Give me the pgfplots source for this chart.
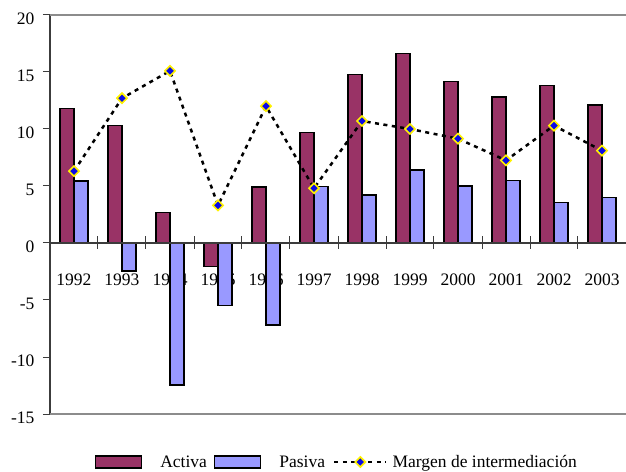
\documentclass[border=0pt]{standalone}
\usepackage{pgfplots}
\pgfplotsset{compat=1.18}
\usepackage{fontspec}
\setmainfont{Liberation Serif}

\definecolor{activa}{HTML}{993366}
\definecolor{pasiva}{HTML}{9999FF}
\definecolor{margen}{HTML}{0A0AE6}
\definecolor{axisdark}{HTML}{3C3C3C}
\definecolor{framegray}{HTML}{8C8C8C}

\newcommand\chartfont{\fontsize{17.5}{21}\selectfont}

\tikzset{
  margenline/.style={black, line width=2.5pt, dash pattern=on 4pt off 4.5pt,
    mark=square*, mark size=3.6pt,
    mark options={solid, rotate=45, fill=margen, draw=yellow, line width=1.6pt}},
  activabar/.style={fill=activa, draw=black, line width=1.4pt},
  pasivabar/.style={fill=pasiva, draw=black, line width=1.4pt},
}

\begin{document}
\begin{tikzpicture}
\begin{axis}[
  at={(0pt,0pt)}, anchor=south west,
  scale only axis, width=576pt, height=399pt,
  xmin=-0.5, xmax=11.5, ymin=-15, ymax=20,
  axis y line=left, axis x line=middle,
  axis line style={-, draw=axisdark, line width=1.2pt},
  xtick={0,...,11},
  xticklabels={1992,1993,1994,1995,1996,1997,1998,1999,2000,2001,2002,2003},
  major x tick style={draw=none},
  ytick={-15,-10,-5,0,5,10,15,20},
  yticklabels={-15,-10,-5,0,5,10,15,20},
  major tick length=7pt,
  ytick align=outside,
  tick style={axisdark, line width=1pt},
  hide obscured x ticks=false, hide obscured y ticks=false,
  tick label style={font=\chartfont},
  xticklabel style={anchor=base, yshift=-39pt},
  yticklabel style={yshift=-4pt, xshift=-5pt},
  clip=false,
  legend columns=3,
  legend style={
    at={(0.0658,-0.1203)}, anchor=west,
    draw=none, fill=none, inner sep=0pt, outer sep=0pt,
    font=\chartfont,
    nodes={inner sep=0pt, text depth=0.15em},
    /tikz/column sep=0pt,
  },
]

% frame lines at the top and bottom of the plot area
\draw[framegray, line width=1.2pt] (rel axis cs:0,1) -- (rel axis cs:1,1);
\draw[framegray, line width=1.2pt] (rel axis cs:0,0) -- (rel axis cs:1,0);

% Tasa activa
\addplot[ybar, bar width=14pt, bar shift=-7pt, activabar,
  legend image code/.code={
    \path (-7pt,0pt);
    \draw[activabar] (0pt,-6pt) rectangle (46pt,6pt);
    \path (64pt,0pt);}]
coordinates {
  (0,11.8) (1,10.3) (2,2.7) (3,-2.05) (4,4.9) (5,9.7)
  (6,14.8) (7,16.6) (8,14.15) (9,12.8) (10,13.8) (11,12.1)
};
\addlegendentry{Activa}

% Tasa pasiva
\addplot[ybar, bar width=14pt, bar shift=7pt, pasivabar,
  legend image code/.code={
    \path (-7pt,0pt);
    \draw[pasivabar] (0pt,-6pt) rectangle (46pt,6pt);
    \path (64pt,0pt);}]
coordinates {
  (0,5.45) (1,-2.45) (2,-12.45) (3,-5.5) (4,-7.2) (5,4.95)
  (6,4.2) (7,6.4) (8,5.0) (9,5.5) (10,3.55) (11,4.0)
};
\addlegendentry{Pasiva}

% zero line (y = 0 sits at 15/35 of the height) with separators between years
\draw[axisdark, line width=1.2pt] (rel axis cs:0,0.428571) -- (rel axis cs:1,0.428571);
\pgfplotsinvokeforeach{1,...,11}{
  \draw[axisdark, line width=1pt]
    ([yshift=6.5pt]rel axis cs:#1/12,0.428571) -- ([yshift=-6.5pt]rel axis cs:#1/12,0.428571);
}

% Margen de intermediación
\addplot[sharp plot, margenline,
  legend image code/.code={
    \path (-8pt,0pt);
    \draw[mark repeat=2, mark phase=2, margenline] plot coordinates {(0pt,0pt) (26pt,0pt) (52pt,0pt)};
    \path (57pt,0pt);}]
coordinates {
  (0,6.3) (1,12.7) (2,15.1) (3,3.3) (4,12.0) (5,4.8)
  (6,10.7) (7,10.0) (8,9.15) (9,7.25) (10,10.3) (11,8.1)
};
\addlegendentry{Margen de intermediación}

\end{axis}
\pgfresetboundingbox
\path[use as bounding box] (-50pt,-57pt) rectangle (576pt,414pt);
\end{tikzpicture}
\end{document}
